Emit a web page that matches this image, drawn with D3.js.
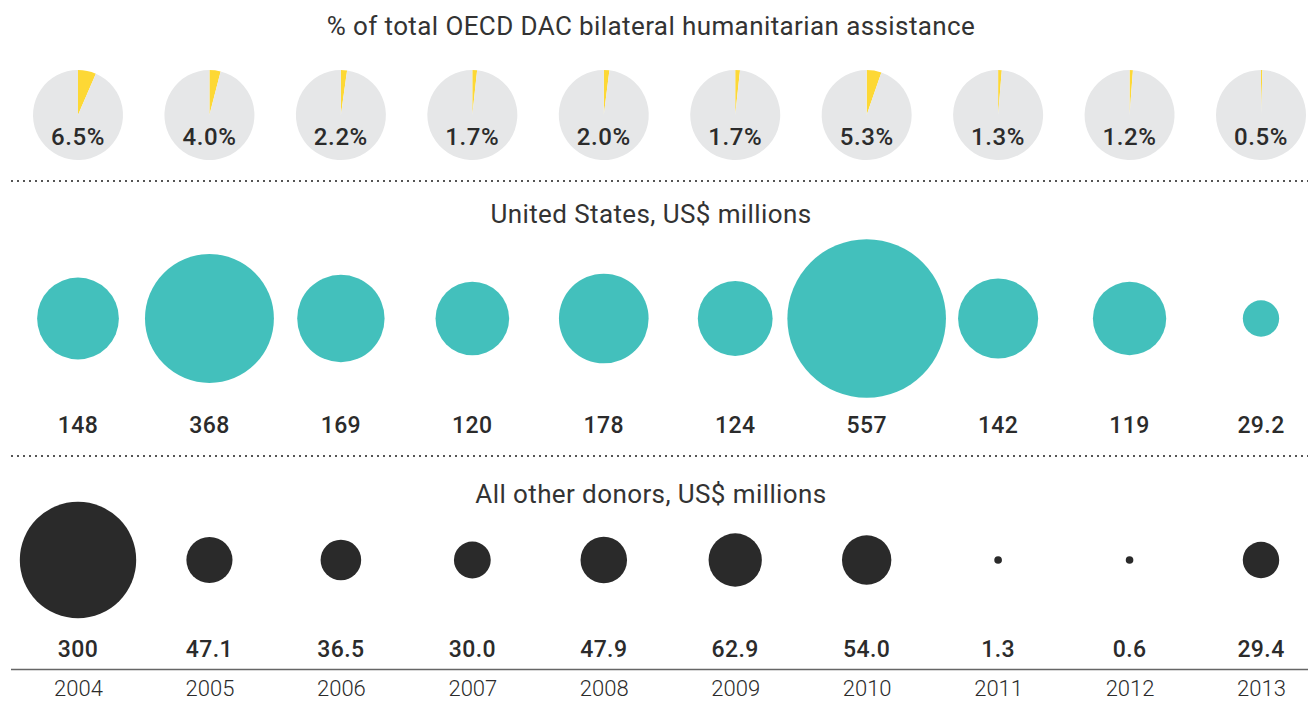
<!DOCTYPE html>
<html>
<head>
<meta charset="utf-8">
<script src="https://cdn.jsdelivr.net/npm/d3@7"></script>
<style>
  html, body { margin: 0; padding: 0; background: #fff; }
  svg { display: block; font-family: Roboto, "Open Sans", sans-serif; }
</style>
</head>
<body>
<svg id="chart" width="1316" height="702"></svg>
<script>
const years = ["2004","2005","2006","2007","2008","2009","2010","2011","2012","2013"];
const sharePct = [6.5, 4.0, 2.2, 1.7, 2.0, 1.7, 5.3, 1.3, 1.2, 0.5];
const usValues = [148, 368, 169, 120, 178, 124, 557, 142, 119, 29.2];
const usLabels = ["148","368","169","120","178","124","557","142","119","29.2"];
const otherValues = [300, 47.1, 36.5, 30.0, 47.9, 62.9, 54.0, 1.3, 0.6, 29.4];
const otherLabels = ["300","47.1","36.5","30.0","47.9","62.9","54.0","1.3","0.6","29.4"];
const titles = ["% of total OECD DAC bilateral humanitarian assistance", "United States, US$ millions", "All other donors, US$ millions"];

const svg = d3.select("#chart");
const textColor = "#2b2b2b";

const x = d3.scalePoint().domain(years).range([78, 1261]);
const r = d3.scaleSqrt().domain([0, 557]).range([0, 3.36 * Math.sqrt(557)]);
const rr = v => Math.max(r(v), 3.8);

// Titles
const titleY = [35, 223, 503];
titleY.forEach((ty, i) => {
  svg.append("text").attr("x", 651).attr("y", ty)
    .attr("text-anchor", "middle").attr("font-size", 26).attr("font-weight", 400)
    .attr("letter-spacing", 0.4)
    .attr("fill", "#333").text(titles[i]);
});

// Pies
const pieR = 45, pieCY = 115;
const arc = d3.arc().innerRadius(0).outerRadius(pieR);
const pie = d3.pie().sort(null);
const pg = svg.append("g");
years.forEach((yr, i) => {
  const g = pg.append("g").attr("transform", `translate(${x(yr)},${pieCY})`);
  const arcs = pie([sharePct[i], 100 - sharePct[i]]);
  g.selectAll("path").data(arcs).join("path")
    .attr("d", arc)
    .attr("fill", (d, j) => j === 0 ? "#fdd835" : "#e6e7e8");
  g.append("text").attr("y", 30).attr("text-anchor", "middle")
    .attr("font-size", 24).attr("font-weight", 500).attr("letter-spacing", 0.6)
    .attr("fill", textColor)
    .text(sharePct[i].toFixed(1) + "%");
});

// Dotted separators
[181, 456].forEach(yy => {
  svg.append("line").attr("x1", 11).attr("x2", 1308).attr("y1", yy).attr("y2", yy)
    .attr("stroke", "#555").attr("stroke-width", 2).attr("stroke-dasharray", "2,4");
});

// US circles
svg.append("g").selectAll("circle").data(usValues).join("circle")
  .attr("cx", (d, i) => x(years[i])).attr("cy", 318.5)
  .attr("r", d => rr(d)).attr("fill", "#43c0bc");
svg.append("g").selectAll("text").data(usLabels).join("text")
  .attr("x", (d, i) => x(years[i])).attr("y", 433)
  .attr("text-anchor", "middle").attr("font-size", 23).attr("font-weight", 500)
  .attr("letter-spacing", 0.4)
  .attr("fill", textColor).text(d => d);

// Other donors circles
svg.append("g").selectAll("circle").data(otherValues).join("circle")
  .attr("cx", (d, i) => x(years[i])).attr("cy", 560)
  .attr("r", d => rr(d)).attr("fill", "#2a2a2a");
svg.append("g").selectAll("text").data(otherLabels).join("text")
  .attr("x", (d, i) => x(years[i])).attr("y", 657)
  .attr("text-anchor", "middle").attr("font-size", 23).attr("font-weight", 500)
  .attr("letter-spacing", 0.4)
  .attr("fill", textColor).text(d => d);

// Year axis
const axisG = svg.append("g").attr("transform", "translate(0,669.5)");
axisG.call(d3.axisBottom(x).tickSize(0).tickPadding(11));
axisG.select(".domain").attr("d", "M11,0H1308").attr("stroke", "#666").attr("stroke-width", 1.5);
axisG.selectAll(".tick text").attr("font-size", 22).attr("font-weight", 300)
  .attr("font-family", "Roboto, sans-serif").attr("fill", textColor).attr("dy", "0.71em");
</script>
</body>
</html>
